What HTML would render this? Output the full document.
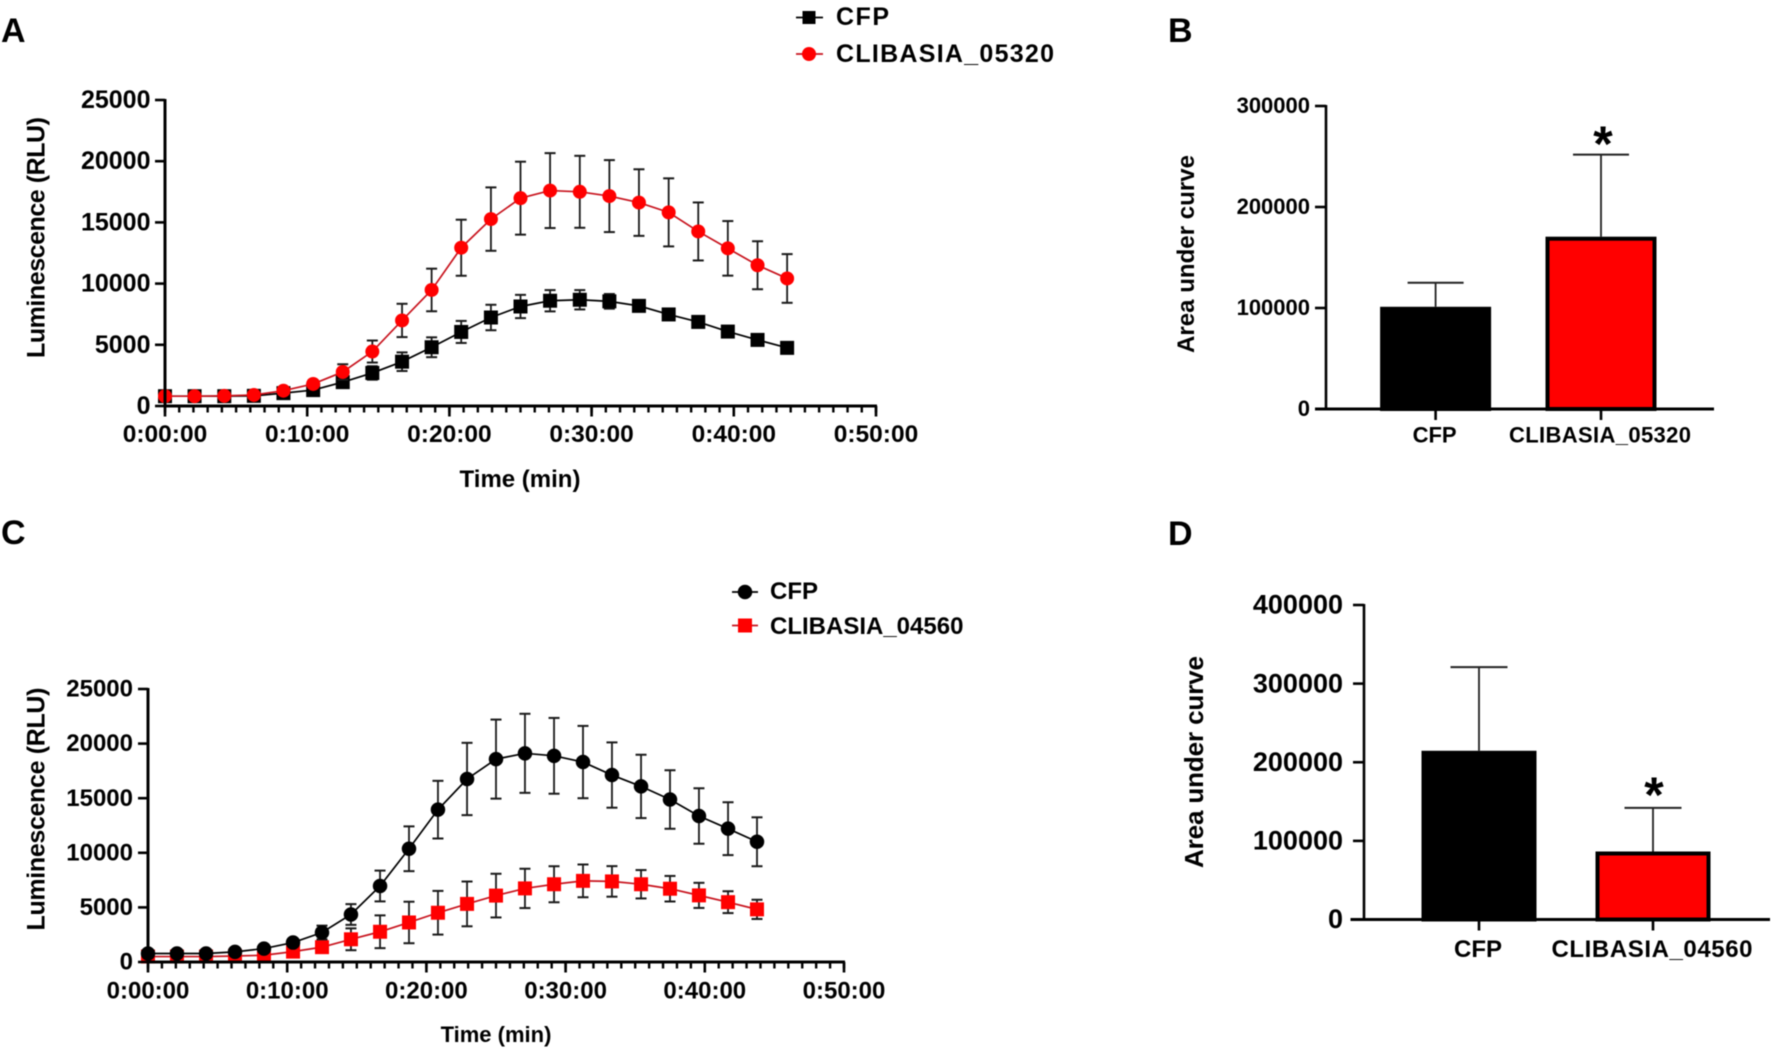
<!DOCTYPE html>
<html lang="en">
<head>
<meta charset="utf-8">
<title>Luminescence time courses and area under curve</title>
<style>
html,body{margin:0;padding:0;background:#fff;}
svg{display:block;filter:blur(0.6px);}
text{font-family:"Liberation Sans",sans-serif;font-weight:bold;fill:#000;}
</style>
</head>
<body>
<svg id="figure" xmlns="http://www.w3.org/2000/svg" width="1772" height="1050" viewBox="0 0 1772 1050">
  <rect x="0" y="0" width="1772" height="1050" fill="#fff"/>
  <text x="1" y="42" font-size="34">A</text>
  <text x="1168" y="42" font-size="34">B</text>
  <text x="1" y="544" font-size="34">C</text>
  <text x="1168" y="545" font-size="34">D</text>

  <text transform="translate(44.5,237.5) rotate(-90)" text-anchor="middle" font-size="25" textLength="241">Luminescence (RLU)</text>
  <text x="520" y="487" text-anchor="middle" font-size="24">Time (min)</text>
  <text x="836" y="25" font-size="25" textLength="53">CFP</text>
  <text x="836" y="62" font-size="25" textLength="218">CLIBASIA_05320</text>

  <text transform="translate(44.5,809) rotate(-90)" text-anchor="middle" font-size="25" textLength="243">Luminescence (RLU)</text>
  <text x="496" y="1042" text-anchor="middle" font-size="22">Time (min)</text>
  <text x="770" y="599" font-size="24">CFP</text>
  <text x="770" y="634" font-size="24">CLIBASIA_04560</text>

  <text transform="translate(1194,254) rotate(-90)" text-anchor="middle" font-size="24" textLength="198">Area under curve</text>
  <text transform="translate(1203,762) rotate(-90)" text-anchor="middle" font-size="26" textLength="212">Area under curve</text>
  <text x="1603" y="161" text-anchor="middle" font-size="50">*</text>
  <text x="1654" y="812" text-anchor="middle" font-size="50">*</text>
</svg>
<script>
// ---- shared x values (minutes) ----
const minutes = [0, 2.08, 4.17, 6.25, 8.33, 10.42, 12.5, 14.58, 16.67, 18.75, 20.83, 22.92, 25, 27.08, 29.17, 31.25, 33.33, 35.42, 37.5, 39.58, 41.67, 43.75];
const timeTickValues = [0, 10, 20, 30, 40, 50];
const timeTickLabels = ['0:00:00', '0:10:00', '0:20:00', '0:30:00', '0:40:00', '0:50:00'];
const luminescenceTicks = [0, 5000, 10000, 15000, 20000, 25000];

// ---- panel A ----
const panelACfpMean = [800, 800, 800, 830, 1050, 1300, 1950, 2700, 3620, 4800, 6050, 7230, 8130, 8600, 8680, 8550, 8180, 7480, 6870, 6080, 5400, 4750];
const panelACfpError = [60, 60, 60, 60, 100, 200, 400, 550, 760, 810, 900, 1040, 950, 870, 790, 600, 450, 400, 300, 200, 200, 200];
const panelAGeneMean = [800, 800, 830, 900, 1250, 1800, 2780, 4450, 6990, 9480, 12930, 15270, 16980, 17600, 17500, 17150, 16620, 15820, 14260, 12880, 11500, 10420];
const panelAGeneError = [100, 100, 100, 100, 150, 300, 630, 900, 1360, 1740, 2290, 2590, 2980, 3060, 2940, 2940, 2720, 2780, 2370, 2230, 1960, 1990];

// ---- panel C ----
const panelCCfpMean = [780, 780, 780, 930, 1230, 1780, 2700, 4350, 6960, 10370, 13950, 16760, 18580, 19110, 18880, 18310, 17120, 16080, 14880, 13370, 12210, 11010];
const panelCCfpError = [80, 80, 80, 100, 200, 300, 630, 950, 1410, 2050, 2640, 3310, 3620, 3620, 3470, 3310, 2990, 2900, 2680, 2540, 2420, 2240];
const panelCGeneMean = [500, 500, 500, 550, 620, 950, 1360, 2080, 2770, 3620, 4510, 5320, 6080, 6740, 7120, 7430, 7380, 7120, 6710, 6100, 5480, 4820];
const panelCGeneError = [100, 100, 100, 100, 150, 300, 500, 1000, 1500, 1900, 2000, 2050, 2000, 1800, 1650, 1500, 1400, 1300, 1170, 1150, 1000, 880];

// ---- panel B ----
const panelBCategories = ['CFP', 'CLIBASIA_05320'];
const panelBMeans = [101200, 170600];
const panelBUpper = [125000, 251800];
const panelBTicks = [0, 100000, 200000, 300000];

// ---- panel D ----
const panelDCategories = ['CFP', 'CLIBASIA_04560'];
const panelDMeans = [214600, 86500];
const panelDUpper = [321000, 142000];
const panelDTicks = [0, 100000, 200000, 300000, 400000];

const SVG_NS = 'http://www.w3.org/2000/svg';
const figure = document.getElementById('figure');

function make(tag, attrs) {
  const el = document.createElementNS(SVG_NS, tag);
  for (const key in attrs) el.setAttribute(key, attrs[key]);
  figure.appendChild(el);
  return el;
}
function scale(d0, d1, r0, r1) {
  return function (v) { return r0 + (v - d0) * (r1 - r0) / (d1 - d0); };
}
function rule(x1, y1, x2, y2, color, width, name) {
  const el = make('line', { x1: x1, y1: y1, x2: x2, y2: y2, stroke: color, 'stroke-width': width });
  
  
  return el;
}
function label(str, x, y, size, anchor, name) {
  const el = make('text', { x: x, y: y + size * 0.36, 'font-size': size, 'text-anchor': anchor });
  el.textContent = str;
  
  
  return el;
}
function marker(kind, cx, cy, size, color, name) {
  const el = kind === 'square'
    ? make('rect', { x: cx - size / 2, y: cy - size / 2, width: size, height: size, fill: color })
    : make('circle', { cx: cx, cy: cy, r: size / 2, fill: color });
  
  
  return el;
}

function drawSeries(sx, sy, means, errors, color, kind, size, name) {
  minutes.forEach(function (t, i) {
    const x = sx(t);
    rule(x, sy(means[i] + errors[i]), x, sy(Math.max(means[i] - errors[i], 0)), '#1a1a1a', 1.8, name + '-error-bar');
    rule(x - 5.5, sy(means[i] + errors[i]), x + 5.5, sy(means[i] + errors[i]), '#1a1a1a', 2, name + '-error-cap-upper');
    rule(x - 5.5, sy(Math.max(means[i] - errors[i], 0)), x + 5.5, sy(Math.max(means[i] - errors[i], 0)), '#1a1a1a', 2, name + '-error-cap-lower');
  });
  const path = make('polyline', {
    points: minutes.map(function (t, i) { return sx(t) + ',' + sy(means[i]); }).join(' '),
    fill: 'none', stroke: color === '#000' ? '#000' : '#c8141e', 'stroke-width': 1.7
  });
  
  
  minutes.forEach(function (t, i) {
    marker(kind, sx(t), sy(means[i]), size, color, name + '-point');
  });
}

function drawTimeAxes(sx, sy, prefix, yBottom, yTop, x0, xEnd, xFont, xLabelY, yFont, yGap) {
  for (let m = 0; m <= 50; m++) {
    rule(sx(m), yBottom, sx(m), yBottom + 6.5, '#000', 2.4, prefix + '-x-minor-tick');
  }
  timeTickValues.forEach(function (v, i) {
    rule(sx(v), yBottom, sx(v), yBottom + 10.5, '#000', 2.6, prefix + '-x-major-tick');
    label(timeTickLabels[i], sx(v), xLabelY, xFont, 'middle', prefix + '-x-tick-label');
  });
  luminescenceTicks.forEach(function (v) {
    rule(x0 - 10, sy(v), x0, sy(v), '#000', 2.6, prefix + '-y-tick');
    label(String(v), x0 - yGap, sy(v) - 1, yFont, 'end', prefix + '-y-tick-label');
  });
  rule(x0, yTop - 1, x0, yBottom + 1.5, '#000', 3, prefix + '-y-axis');
  rule(x0, yBottom, xEnd + 1, yBottom, '#000', 3, prefix + '-x-axis');
}

function drawBars(prefix, sy, cats, means, upper, ticks, opts) {
  ticks.forEach(function (v) {
    rule(opts.x0 - 11, sy(v), opts.x0, sy(v), '#000', 2.6, prefix + '-y-tick');
    label(String(v), opts.x0 - opts.tickGap, sy(v) - 1, opts.tickFont, 'end', prefix + '-y-tick-label');
  });
  cats.forEach(function (c, i) {
    const cx = opts.centers[i];
    const color = i === 0 ? '#000' : '#ff0000';
    const bar = make('rect', {
      x: cx - opts.barWidth / 2 + 2, y: sy(means[i]) + 2,
      width: opts.barWidth - 4, height: sy(0) - sy(means[i]) - 2,
      fill: color, stroke: '#000', 'stroke-width': 4
    });
    
    
    rule(cx, sy(means[i]), cx, sy(upper[i]), '#222', 1.8, prefix + '-error-bar');
    rule(cx - opts.capHalf, sy(upper[i]), cx + opts.capHalf, sy(upper[i]), '#222', 2, prefix + '-error-cap');
    rule(cx, sy(0), cx, sy(0) + 11, '#000', 2.6, prefix + '-x-tick');
    const text = label(c, cx - 1, opts.labelY, opts.labelFont, 'middle', prefix + '-x-tick-label');
    if (c !== 'CFP') text.setAttribute('textLength', opts.longLabelWidth);
  });
  rule(opts.x0, sy(ticks[ticks.length - 1]) - 1, opts.x0, sy(0) + 1, '#000', 2.6, prefix + '-y-axis');
  rule(opts.xLeft, sy(0), opts.xRight, sy(0), '#000', 3, prefix + '-x-axis');
}

// Panel A
const ax = scale(0, 50, 165, 876);
const ay = scale(0, 25000, 406, 100);
drawSeries(ax, ay, panelACfpMean, panelACfpError, '#000', 'square', 14, 'panel-a-cfp');
drawSeries(ax, ay, panelAGeneMean, panelAGeneError, '#ff0000', 'circle', 14, 'panel-a-clibasia-05320');
drawTimeAxes(ax, ay, 'panel-a', 406, 100, 165, 876, 24.5, 433, 25, 14.5);
rule(796, 17.5, 823, 17.5, '#000', 1.8, 'panel-a-legend-line-cfp');
marker('square', 809, 17.5, 13, '#000', 'panel-a-legend-marker-cfp');
rule(796, 54, 823, 54, '#c8141e', 1.8, 'panel-a-legend-line-clibasia-05320');
marker('circle', 809, 54, 14, '#ff0000', 'panel-a-legend-marker-clibasia-05320');

// Panel C
const cx = scale(0, 50, 148, 844);
const cy = scale(0, 25000, 962, 689);
drawSeries(cx, cy, panelCGeneMean, panelCGeneError, '#ff0000', 'square', 14, 'panel-c-clibasia-04560');
drawSeries(cx, cy, panelCCfpMean, panelCCfpError, '#000', 'circle', 14.5, 'panel-c-cfp');
drawTimeAxes(cx, cy, 'panel-c', 962, 689, 148, 844, 24, 990, 24, 15);
rule(732, 592, 758, 592, '#000', 1.8, 'panel-c-legend-line-cfp');
marker('circle', 745, 592, 14.5, '#000', 'panel-c-legend-marker-cfp');
rule(732, 625.5, 758, 625.5, '#c8141e', 1.8, 'panel-c-legend-line-clibasia-04560');
marker('square', 745, 625.5, 14, '#ff0000', 'panel-c-legend-marker-clibasia-04560');

// Panel B
drawBars('panel-b', scale(0, 300000, 409, 106), panelBCategories, panelBMeans, panelBUpper, panelBTicks, {
  x0: 1326, xLeft: 1315, xRight: 1714, centers: [1435.6, 1601], barWidth: 111, capHalf: 28,
  tickFont: 22, tickGap: 16, labelFont: 22, labelY: 434.5, longLabelWidth: 182
});

// Panel D
drawBars('panel-d', scale(0, 400000, 919.5, 605), panelDCategories, panelDMeans, panelDUpper, panelDTicks, {
  x0: 1364, xLeft: 1350.5, xRight: 1770, centers: [1479, 1653], barWidth: 115, capHalf: 28.5,
  tickFont: 27, tickGap: 21, labelFont: 24, labelY: 948.5, longLabelWidth: 201
});
</script>
</body>
</html>
